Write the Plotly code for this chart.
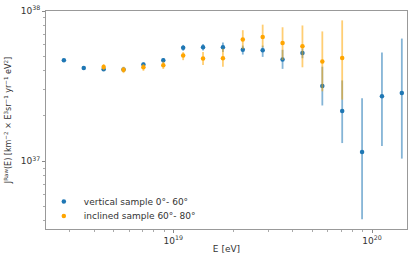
import plotly.graph_objects as go

# log10(E/eV) bin centres
log_e_vertical = [18.45, 18.55, 18.65, 18.75, 18.85, 18.95, 19.05, 19.15, 19.25,
                  19.35, 19.45, 19.55, 19.65, 19.75, 19.85, 19.95, 20.05, 20.15]
log_e_inclined = [18.65, 18.75, 18.85, 18.95, 19.05, 19.15, 19.25,
                  19.35, 19.45, 19.55, 19.65, 19.75, 19.85]

# flux values in units of 1e37
vertical_j = [4.71, 4.18, 4.10, 4.08, 4.40, 4.70, 5.69, 5.74, 5.74,
              5.52, 5.49, 4.76, 5.25, 3.17, 2.16, 1.15, 2.71, 2.85]
vertical_up = [0.10, 0.09, 0.09, 0.09, 0.15, 0.17, 0.26, 0.29, 0.44,
               0.37, 0.40, 0.76, 0.38, 1.09, 1.29, 1.48, 2.59, 3.71]
vertical_dn = [0.10, 0.09, 0.09, 0.09, 0.15, 0.17, 0.25, 0.28, 0.41,
               0.39, 0.54, 0.64, 0.40, 0.82, 0.84, 0.74, 1.45, 1.81]

inclined_j = [4.24, 4.06, 4.22, 4.36, 5.05, 4.83, 4.85,
              6.46, 6.73, 6.12, 5.82, 4.62, 4.87]
inclined_up = [0.20, 0.20, 0.22, 0.25, 0.28, 0.50, 0.75,
               1.00, 1.39, 1.68, 2.20, 2.70, 3.80]
inclined_dn = [0.20, 0.20, 0.22, 0.25, 0.34, 0.46, 0.59,
               0.86, 0.99, 1.40, 1.60, 1.70, 2.30]

scale = 1e37

def E(v):
    return [10 ** x for x in v]

def S(v):
    return [x * scale for x in v]

fig = go.Figure()
fig.add_trace(go.Scatter(
    x=E(log_e_vertical), y=S(vertical_j), mode="markers",
    name="vertical sample 0°- 60°", legend="legend",
    marker=dict(color="#1f77b4", size=4.5, symbol="circle"),
    error_y=dict(type="data", symmetric=False, array=S(vertical_up), arrayminus=S(vertical_dn),
                 color="rgba(31,119,180,0.55)", thickness=1.8, width=0),
))
fig.add_trace(go.Scatter(
    x=E(log_e_inclined), y=S(inclined_j), mode="markers",
    name="inclined sample 60°- 80°", legend="legend2",
    marker=dict(color="#ffa500", size=4.5, symbol="circle"),
    error_y=dict(type="data", symmetric=False, array=S(inclined_up), arrayminus=S(inclined_dn),
                 color="rgba(255,165,0,0.55)", thickness=1.8, width=0),
))

x_minor = [3e18, 4e18, 5e18, 6e18, 7e18, 8e18, 9e18,
           2e19, 3e19, 4e19, 5e19, 6e19, 7e19, 8e19, 9e19]
y_minor = [4e36, 5e36, 6e36, 7e36, 8e36, 9e36,
           2e37, 3e37, 4e37, 5e37, 6e37, 7e37, 8e37, 9e37]

lfont = dict(family="DejaVu Sans", size=9, color="#333")
font = dict(family="DejaVu Sans", size=9, color="#333")
fig.update_layout(
    width=415, height=258,
    margin=dict(l=46.3, r=8.3, t=4.3, b=28.7),
    paper_bgcolor="white", plot_bgcolor="white",
    font=font,
    showlegend=True,
    legend=dict(x=-0.006, y=0.126, xanchor="left", yanchor="middle",
                bgcolor="rgba(0,0,0,0)", font=lfont, itemwidth=30),
    legend2=dict(x=-0.006, y=0.060, xanchor="left", yanchor="middle",
                 bgcolor="rgba(0,0,0,0)", font=lfont, itemwidth=30),
)
fig.update_xaxes(
    type="log", range=[18.360, 20.176],
    tickvals=[1e19, 1e20], ticktext=["10<sup>19</sup>", "10<sup>20</sup>"],
    ticks="outside", ticklen=3, tickcolor="#888", ticklabeloverflow="allow",
    minor=dict(tickvals=x_minor, ticks="outside", ticklen=2, tickcolor="#aaa"),
    showgrid=False, zeroline=False,
    showline=True, linecolor="#999", linewidth=1, mirror=True,
    title=dict(text="E [eV]", font=dict(family="DejaVu Sans", size=9, color="#333"), standoff=0),
)
fig.update_yaxes(
    type="log", range=[36.548, 38.0005],
    tickvals=[1e37, 1e38], ticktext=["10<sup>37</sup>", "10<sup>38</sup>"],
    ticks="outside", ticklen=3, tickcolor="#888", ticklabeloverflow="allow",
    minor=dict(tickvals=y_minor, ticks="outside", ticklen=2, tickcolor="#aaa"),
    showgrid=False, zeroline=False,
    showline=True, linecolor="#999", linewidth=1, mirror=True,
    title=dict(text="J<sup>Raw</sup>(E) [km<sup>−2</sup> × E<sup>3</sup>sr<sup>−1</sup> yr<sup>−1</sup> eV<sup>2</sup>]",
               font=dict(family="DejaVu Sans", size=8, color="#333"), standoff=7),
)

fig.write_html("out.html", config={"displayModeBar": False},
               post_script="document.body.style.margin='0';")
